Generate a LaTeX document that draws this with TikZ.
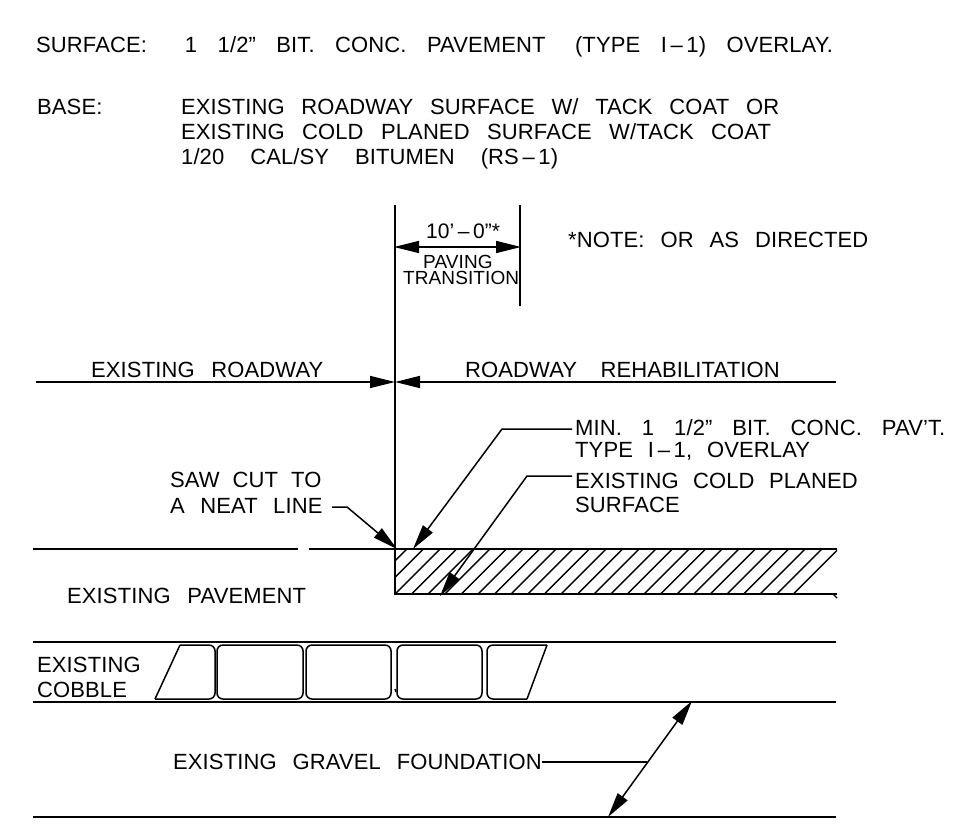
\documentclass[tikz,border=0pt]{standalone}
\usepackage{fontspec}
\setmainfont{Liberation Sans}[LetterSpace=0.5,WordSpace=2.7]
\usetikzlibrary{arrows.meta}
\newcommand{\wsp}[2]{{\spaceskip #1pt\relax #2}}
\tikzset{
  lbl/.style={anchor=base west,inner sep=0pt,font=\fontsize{22}{24}\selectfont},
  lblsmall/.style={anchor=base west,inner sep=0pt,font=\fontsize{19}{20}\selectfont},
  wall/.style={line width=1.5pt},
  stone/.style={line width=1.5pt,rounded corners=6pt},
  tipend/.style={-{Triangle[length=25pt,width=12pt]}},
  tipboth/.style={{Triangle[length=25pt,width=12pt]}-{Triangle[length=25pt,width=12pt]}}
}
\begin{document}
\begin{tikzpicture}[x=1pt,y=-1pt]
\useasboundingbox (0,0) rectangle (971,831);
% notes at the top
\node [lbl,name=surf] at (36,52){\wsp{20.5}{SURFACE:\hspace{38pt}1 1/2" BIT. CONC. PAVEMENT\hspace{9pt} (TYPE I\,--\,1) OVERLAY.}};
\node [lbl,name=base] at (37,114){BASE:};
\node [lbl,name=basea] at (181,114){EXISTING ROADWAY SURFACE W/ TACK COAT OR};
\node [lbl,name=baseb] at (181,139){\wsp{17.5}{EXISTING COLD PLANED SURFACE W/TACK COAT}};
\node [lbl,name=basec] at (181,164){\wsp{26}{1/20 CAL/SY BITUMEN (RS\,--\,1)}};
\node [lbl,name=note] at (568,247){\wsp{16}{*NOTE: OR AS DIRECTED}};
% dimension
\node [lbl,font=\fontsize{21}{22}\selectfont,name=dim] at (426,238){10'\,--\,0"*};
\node [lblsmall,name=pav] at (423,268){PAVING};
\node [lblsmall,name=trans] at (403,284){TRANSITION};
\coordinate (ctop) at (395,205);
\coordinate (cbot) at (395,549);
\coordinate (etop) at (520,205);
\coordinate (ebot) at (520,306);
\coordinate (dl) at (394,247);
\coordinate (dr) at (521,247);
\draw[wall] (ctop)--(cbot);
\draw[wall] (etop)--(ebot);
\draw[wall,tipboth] (dl)--(dr);
% roadway line
\node [lbl,name=exroad] at (91,377){EXISTING ROADWAY};
\node [lbl,name=rehab] at (465,377){\wsp{23.5}{ROADWAY REHABILITATION}};
\coordinate (rl) at (36,382);
\coordinate (rm) at (395,382);
\coordinate (rr) at (836,382);
\draw[wall,tipend] (rl)--(rm);
\draw[wall,tipend] (rr)--(rm);
% leader texts
\node [lbl,name=minpav] at (575,435){\wsp{20}{MIN. 1 1/2" BIT. CONC. PAV'T.}};
\node [lbl,name=typei] at (575,457){\wsp{15}{TYPE I\,--\,1, OVERLAY}};
\node [lbl,name=cold] at (575,488){\wsp{14.5}{EXISTING COLD PLANED}};
\node [lbl,name=coldb] at (575,512){SURFACE};
\node [lbl,name=saw] at (170,487){\wsp{13}{SAW CUT TO}};
\node [lbl,name=neat] at (170,513){\wsp{15.5}{A NEAT LINE}};
\node [lbl,name=expav] at (67,603){EXISTING PAVEMENT};
\node [lbl,name=excob] at (37,672){EXISTING};
\node [lbl,name=cob] at (37,697){COBBLE};
\node [lbl,name=gravel] at (173,769){\wsp{16}{EXISTING GRAVEL FOUNDATION}};
% pavement
\coordinate (pa) at (33,549);
\coordinate (pb) at (298,549);
\coordinate (pc) at (309,549);
\coordinate (pd) at (837,549);
\draw[wall] (pa)--(pb);
\draw[wall] (pc)--(pd);
\draw[wall] (395,549)--(395,594)--(837,594);
\begin{scope}
\clip (395,549) rectangle (837,594);
\foreach \k in {-2,...,24}
  \draw[line width=1.4pt] ({989+16.6*\k-594},594)--({989+16.6*\k-549},549);
\end{scope}
\draw[line width=1.4pt] (833,594)--(837,598);
% courses below
\coordinate (ca) at (33,642);
\coordinate (cb) at (836,642);
\coordinate (da) at (33,702);
\coordinate (db) at (836,702);
\coordinate (ga) at (33,817);
\coordinate (gb) at (836,817);
\draw[wall] (ca)--(cb);
\draw[wall] (da)--(db);
\draw[wall] (ga)--(gb);
% cobbles
\draw[wall] (155,699)--(180,645);
\draw[stone] (180,645)--(215,645)--(215,699)--(155,699);
\draw[stone] (217,645) rectangle (303,699);
\draw[stone] (306,645) rectangle (391,699);
\draw[stone] (397,645) rectangle (482,699);
\draw[stone] (547,645)--(487,645)--(487,699)--(527,699);
\draw[wall] (527,699)--(547,645);
\draw[line width=1.4pt] (395,689)--(396,692);
% leaders
\coordinate (sawa) at (332,507);
\coordinate (sawk) at (347,507);
\coordinate (sawt) at (397,549);
\coordinate (mink) at (502,429);
\coordinate (mint) at (413,549);
\coordinate (coldk) at (527,476);
\coordinate (coldt) at (440,596);
\coordinate (grk) at (647,762);
\coordinate (grt) at (692,701);
\coordinate (grb) at (608,817);
\draw[wall,tipend] (sawa)--(sawk)--(sawt);
\draw[wall,tipend,shorten <=3pt] (mink -| minpav.west)--(mink)--(mint);
\draw[wall,tipend,shorten <=3pt] (coldk -| cold.west)--(coldk)--(coldt);
\draw[wall] (grk -| gravel.east)--(grk);
\draw[wall,tipboth] (grt)--(grb);
\end{tikzpicture}
\end{document}
